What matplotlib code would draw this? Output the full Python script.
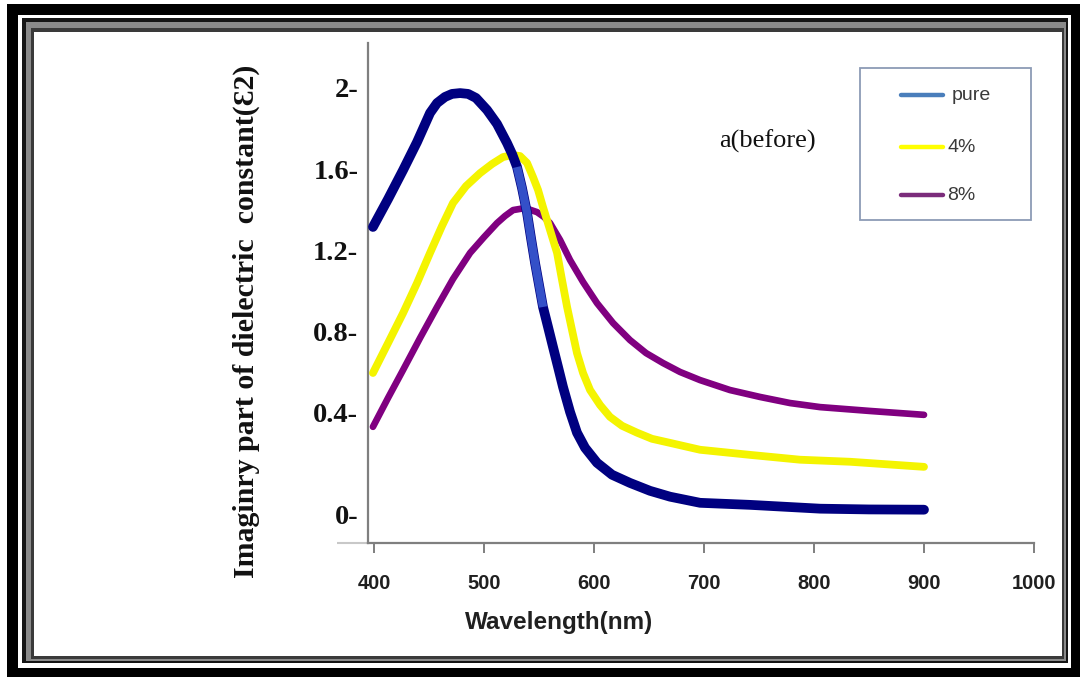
import numpy as np
import matplotlib
matplotlib.use("Agg")
import matplotlib.pyplot as plt
from matplotlib.patches import Rectangle

# ---------------- data ----------------
series_labels = ["pure", "4%", "8%"]

pure_nm = [399, 412.7, 426.4, 439.1, 450.9, 457.3, 464.5, 470.9, 478.2, 485.5,
           492.7, 502.7, 511.8, 520.9, 525.5, 530.0, 534.5, 539.1, 542.7, 546.4,
           550.0, 553.6, 558.2, 562.7, 567.3, 571.8, 578.2, 584.5, 591.8, 602.7,
           616.4, 632.7, 650.9, 669.1, 696.4, 741.8, 805.5, 850, 900]
pure_eps = [1.315, 1.452, 1.595, 1.733, 1.876, 1.925, 1.955, 1.970, 1.974, 1.970,
            1.950, 1.891, 1.822, 1.728, 1.674, 1.610, 1.507, 1.384, 1.260, 1.137,
            1.029, 0.921, 0.822, 0.724, 0.625, 0.527, 0.404, 0.322, 0.263, 0.204,
            0.157, 0.125, 0.094, 0.071, 0.047, 0.039, 0.024, 0.021, 0.020]

p4_nm = [399, 412.7, 426.4, 439.1, 450.9, 461.8, 471.8, 483.6, 496.4, 507.3,
         517.3, 525.5, 532.7, 539.1, 544.5, 549.1, 553.6, 560.0, 566.4, 570.9,
         575.5, 580.0, 584.5, 590.0, 596.4, 605.5, 614.5, 625.5, 639.1, 652.7,
         669.1, 696.4, 741.8, 787.3, 832.7, 900]
p4_eps = [0.596, 0.743, 0.891, 1.039, 1.187, 1.320, 1.433, 1.516, 1.580, 1.625,
          1.659, 1.669, 1.664, 1.630, 1.561, 1.497, 1.413, 1.300, 1.187, 1.054,
          0.921, 0.807, 0.694, 0.596, 0.512, 0.438, 0.384, 0.349, 0.322, 0.298,
          0.282, 0.255, 0.235, 0.216, 0.208, 0.188]

p8_nm = [399, 412.7, 426.4, 441.8, 457.3, 471.8, 487.3, 500.0, 511.8, 519.1,
         526.4, 537.3, 548.2, 554.5, 560.0, 569.1, 578.2, 590.0, 602.7, 617.3,
         632.7, 647.3, 662.7, 678.2, 696.4, 723.6, 750.9, 778.2, 805.5, 850.9, 900]
p8_eps = [0.345, 0.473, 0.611, 0.768, 0.921, 1.059, 1.187, 1.265, 1.334, 1.369,
          1.398, 1.408, 1.388, 1.364, 1.334, 1.251, 1.152, 1.044, 0.940, 0.842,
          0.758, 0.694, 0.645, 0.601, 0.561, 0.512, 0.478, 0.448, 0.428, 0.409,
          0.392]

x_ticks = [400, 500, 600, 700, 800, 900, 1000]
y_ticks = [0, 0.4, 0.8, 1.2, 1.6, 2.0]
y_ticklabels = ["0-", "0.4-", "0.8-", "1.2-", "1.6-", "2-"]

x_label = "Wavelength(nm)"
y_label = "Imaginry part of dielectric  constant(Ɛ2)"
annot = "a(before)"

# ---------------- styling ----------------
W, H = 1080, 677
fig = plt.figure(figsize=(W / 100, H / 100), dpi=100, facecolor="white")

# background overlay in pixel coordinates (y down)
bg = fig.add_axes([0, 0, 1, 1], zorder=0)
bg.set_xlim(0, W)
bg.set_ylim(H, 0)
bg.axis("off")

def rect(x0, y0, x1, y1, color):
    bg.add_patch(Rectangle((x0, y0), x1 - x0, y1 - y0, facecolor=color,
                           edgecolor="none", lw=0))

rect(7, 4, W, H, "black")
rect(18, 15, 1071, 668, "white")
rect(22, 18, 1068, 663, "#151515")
rect(26, 22, 1066, 661, "#8a8a8a")
rect(31, 28, 1064, 659, "#3a3a3a")
rect(34, 32, 1062, 656, "white")

# faint extension of the x-axis to the left of the y-axis
bg.plot([337, 368], [543, 543], color="#c8c8c8", lw=1.5, solid_capstyle="butt")

# piecewise-linear y scale that mimics the irregular label spacing
k = 1.2555
def fwd(v):
    v = np.asarray(v, dtype=float)
    return np.where(v >= 0.4, v, 0.4 - (0.4 - v) * k)
def inv(u):
    u = np.asarray(u, dtype=float)
    return np.where(u >= 0.4, u, 0.4 - (0.4 - u) / k)

ax_l, ax_r, ax_t, ax_b = 368, 1034, 43, 543
ax = fig.add_axes([ax_l / W, 1 - ax_b / H, (ax_r - ax_l) / W, (ax_b - ax_t) / H],
                  zorder=1)
ax.patch.set_alpha(0)
ax.set_yscale("function", functions=(fwd, inv))

line_kw = dict(solid_capstyle="round", solid_joinstyle="round")
ax.plot(p8_nm, p8_eps, color="#800080", lw=4.8, zorder=2, **line_kw)
ax.plot(p4_nm, p4_eps, color="#f4f400", lw=5.6, zorder=3, **line_kw)
ax.plot(pure_nm, pure_eps, color="#000080", lw=7.0, zorder=4, **line_kw)
# lighter-blue stretch of the pure curve where it crosses the others
pn = np.array(pure_nm)
pe = np.array(pure_eps)
seg = (pn >= 528) & (pn <= 556)
ax.plot(pn[seg], pe[seg], color="#3450c8", lw=6.0, zorder=5, solid_capstyle="butt",
        solid_joinstyle="round")

ax.set_xlim(394.5, 1000)
ax.set_ylim(-0.1106, 2.2206)

for s in ["top", "right"]:
    ax.spines[s].set_visible(False)
for s in ["left", "bottom"]:
    ax.spines[s].set_color("#7f7f7f")
    ax.spines[s].set_linewidth(1.6)

ax.set_xticks(x_ticks)
ax.set_xticklabels([str(t) for t in x_ticks], fontfamily="Liberation Sans",
                   fontweight="bold", fontsize=14.5, color="#202020")
ax.tick_params(axis="x", direction="out", length=7, width=1.4, color="#7f7f7f",
               pad=15)
ax.set_yticks(y_ticks)
ax.set_yticklabels(y_ticklabels, fontfamily="Liberation Serif",
                   fontweight="bold", fontsize=20.5, color="#111111")
ax.tick_params(axis="y", length=0, pad=7)
ax.yaxis.set_minor_locator(matplotlib.ticker.NullLocator())

# labels (pixel placement via background axes)
bg.text(559, 622, x_label, ha="center", va="center", fontfamily="Liberation Sans",
        fontweight="bold", fontsize=17.5, color="#202020")
bg.text(246, 321, y_label, ha="center", va="center", rotation=90,
        fontfamily=["Liberation Serif", "DejaVu Serif"], fontweight="bold",
        fontsize=21.5, color="#111111")
bg.text(767, 141, annot, ha="center", va="center", fontfamily="Liberation Serif",
        fontsize=19, color="#111111")

# legend box
bg.add_patch(Rectangle((860, 68), 171, 152, facecolor="white",
                       edgecolor="#8c9bb5", lw=1.3, zorder=3))
legend_colors = ["#4a7ebb", "#ffff00", "#7b2c7b"]
legend_y = [95, 147, 195]
legend_x = [952, 947, 947]
for lab, col, yy, xx in zip(series_labels, legend_colors, legend_y, legend_x):
    bg.plot([901, 943], [yy, yy], color=col, lw=3.2, solid_capstyle="round",
            zorder=4)
    bg.text(xx, yy, lab, ha="left", va="center", fontfamily="Liberation Sans",
            fontsize=14, color="#3a3a3a", zorder=4)

fig.savefig("out.png", dpi=100, facecolor="white")
